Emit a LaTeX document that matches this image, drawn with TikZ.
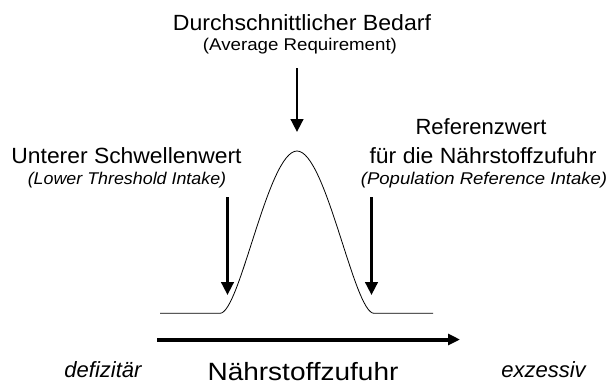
\documentclass[tikz,border=0pt]{standalone}
\usepackage{fontspec}
\setmainfont{Liberation Sans}
\usetikzlibrary{arrows.meta}
\newcommand{\hstretch}[2]{\scalebox{#1}[1]{#2}}
\begin{document}
\begin{tikzpicture}[x=1pt,y=-1pt,
  lbl/.style={inner sep=0pt, anchor=base},
  big/.style={lbl, font=\fontsize{22}{26}\selectfont},
  sub/.style={lbl, font=\fontsize{17}{20}\selectfont\itshape},
  arr/.style={line width=2.8pt, -{Triangle[length=13pt,width=12.5pt]}},
  axis/.style={line width=4pt, -{Triangle[length=12pt,width=11pt]}},
  curve/.style={line width=0.8pt}]
\useasboundingbox (0,0) rectangle (610,384);
% texts
\node[big] (avg) at (302,30) {\hstretch{1.05}{Durchschnittlicher Bedarf}};
\node[lbl, font=\fontsize{17}{20}\selectfont] (avgE) at (300,50) {\hstretch{1.1}{(Average Requirement)}};
\node[big] (lti) at (126.5,163) {\hstretch{1.04}{Unterer Schwellenwert}};
\node[sub] (ltiE) at (127,184.5) {\hstretch{1.05}{(Lower Threshold Intake)}};
\node[big] (pri1) at (481,134) {Referenzwert};
\node[big] (pri2) at (483,163) {\hstretch{1.044}{für die Nährstoffzufuhr}};
\node[sub] (priE) at (484,184.5) {\hstretch{1.09}{(Population Reference Intake)}};
\node[lbl, font=\fontsize{22}{26}\selectfont\itshape] (def) at (103,377) {defizitär};
\node[lbl, font=\fontsize{25}{28}\selectfont] (naehr) at (303,380) {\hstretch{1.12}{Nährstoffzufuhr}};
\node[lbl, font=\fontsize{22}{26}\selectfont\itshape] (exz) at (543.5,377) {exzessiv};
% coordinates
\coordinate (a1s) at (297,68);  \coordinate (a1e) at (297,132);
\coordinate (a2s) at (227.5,197); \coordinate (a2e) at (227.5,295);
\coordinate (a3s) at (371.5,197); \coordinate (a3e) at (371.5,295);
\coordinate (xs) at (157,339.5);  \coordinate (xe) at (460,339.5);
\coordinate (c0) at (160,313.3);  \coordinate (cl) at (220,313.3);
\coordinate (cp) at (297,151);    \coordinate (cr) at (374,313.3);
\coordinate (c1) at (433,313.3);
% curve
\draw[curve] (c0) -- (cl) .. controls (240,313.3) and (268,151) .. (cp)
  .. controls (326,151) and (354,313.3) .. (cr) -- (c1);
% arrows
\draw[arr] (a1s) -- (a1e);
\draw[arr] (a2s) -- (a2e);
\draw[arr] (a3s) -- (a3e);
\draw[axis] (xs) -- (xe);
\end{tikzpicture}
\end{document}
